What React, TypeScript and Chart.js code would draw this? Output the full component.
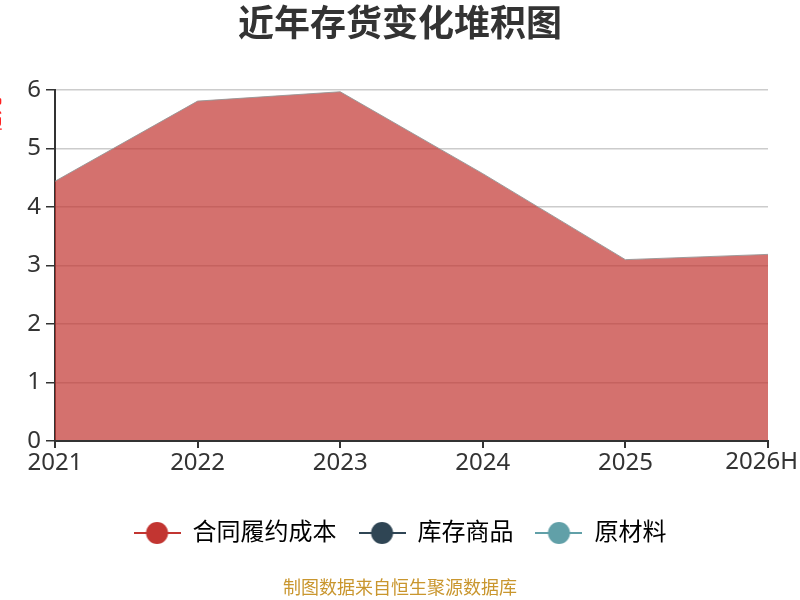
import Chart, { ChartConfiguration, Plugin } from "chart.js/auto";
import React, { useRef } from "react";

const years = ["2021", "2022", "2023", "2024", "2025", "2026H"];
const contractCost = [4.44, 5.81, 5.97, 4.57, 3.1, 3.19];
const goodsInStock = [0, 0, 0, 0, 0, 0];
const rawMaterials = [0, 0, 0, 0, 0, 0];
const seriesNames = ["合同履约成本", "库存商品", "原材料"];
const seriesColors = ["#c23531", "#2f4554", "#61a0a8"];
const yTicks = [0, 1, 2, 3, 4, 5, 6];

const FONT = '"Noto Sans", "Noto Sans CJK SC", sans-serif';

// legend marker: short line with a dot in the middle
const makeMarker = (color: string) => {
  const c = document.createElement("canvas");
  c.width = 47;
  c.height = 22;
  const g = c.getContext("2d")!;
  g.strokeStyle = color;
  g.lineWidth = 2;
  g.beginPath();
  g.moveTo(0, 11);
  g.lineTo(47, 11);
  g.stroke();
  g.fillStyle = color;
  g.beginPath();
  g.arc(23.5, 11, 11, 0, Math.PI * 2);
  g.fill();
  return c;
};

const extras: Plugin = {
  id: "extras",
  afterDraw(chart) {
    const ctx = chart.ctx;
    const x = chart.scales.x;
    ctx.save();
    ctx.textAlign = "center";
    ctx.textBaseline = "middle";
    ctx.fillStyle = "#333";
    ctx.font = `bold 36px ${FONT}`;
    ctx.fillText("近年存货变化堆积图", 400, 26);
    ctx.fillStyle = "#c9962e";
    ctx.font = `18px ${FONT}`;
    ctx.fillText("制图数据来自恒生聚源数据库", 400, 589);

    // last category label is pushed inside the canvas, like the original
    const last = years.length - 1;
    ctx.font = `24px ${FONT}`;
    ctx.fillStyle = "#333";
    ctx.textAlign = "right";
    ctx.textBaseline = "top";
    const w = ctx.measureText(years[last]).width;
    const px = Math.min(x.getPixelForValue(last) + w / 2, chart.width - 2);
    ctx.fillText(years[last], px, x.top + 9);

    // y-axis unit, mostly cut off at the left edge
    ctx.textAlign = "center";
    ctx.textBaseline = "middle";
    ctx.font = `18px ${FONT}`;
    ctx.translate(-5, 115);
    ctx.rotate(-Math.PI / 2);
    ctx.fillStyle = "#ff2020";
    ctx.fillText("亿元", 0, 0);
    ctx.restore();
  },
};

const App = () => {
  const canvasEl = useRef<HTMLCanvasElement>(null);
  React.useEffect(() => {
    const ctx = canvasEl.current!.getContext("2d")!;
    const markers = seriesColors.map(makeMarker);
    const values = [contractCost, goodsInStock, rawMaterials];

    const data = {
      labels: years,
      datasets: values.map((v, i) => ({
        label: seriesNames[i],
        data: v,
        fill: i === 0 ? "origin" : "-1",
        backgroundColor: i === 0 ? "rgba(194,53,49,0.7)" : seriesColors[i],
        borderColor: i === 0 ? "rgba(150,150,150,0.9)" : seriesColors[i],
        borderWidth: i === 0 ? 1 : 0,
        pointRadius: 0,
        tension: 0,
      })),
    };

    const config = {
      type: "line",
      data: data,
      plugins: [extras],
      options: {
        responsive: false,
        animation: false,
        layout: { padding: { left: 0, right: 0, top: 90, bottom: 45 } },
        plugins: {
          title: { display: false },
          legend: {
            position: "bottom",
            labels: {
              usePointStyle: true,
              pointStyleWidth: 47,
              boxHeight: 22,
              padding: 22,
              color: "#333",
              font: { family: FONT, size: 24 },
              generateLabels: () =>
                seriesNames.map((name, i) => ({
                  text: name,
                  pointStyle: markers[i],
                  fillStyle: seriesColors[i],
                  strokeStyle: seriesColors[i],
                  lineWidth: 0,
                  datasetIndex: i,
                  hidden: false,
                })),
            },
          },
          tooltip: { enabled: false },
        },
        scales: {
          x: {
            offset: false,
            grid: {
              display: true,
              drawOnChartArea: false,
              drawTicks: true,
              tickLength: 7,
              tickColor: "#333",
              lineWidth: 2,
            },
            border: { color: "#333", width: 2, z: 1 },
            ticks: {
              color: "#333",
              font: { family: FONT, size: 24 },
              padding: 1,
              maxRotation: 0,
              autoSkip: false,
              callback: (_v: any, i: number) => (i === years.length - 1 ? "" : years[i]),
            },
            afterFit: (scale: any) => {
              scale.height = 58;
              scale.paddingRight = 32;
              scale.paddingLeft = 0;
            },
          },
          y: {
            stacked: true,
            min: 0,
            max: 6,
            afterBuildTicks: (scale: any) => {
              scale.ticks = yTicks.map((v) => ({ value: v }));
            },
            grid: {
              color: "#cccccc",
              lineWidth: 1.5,
              tickLength: 9,
              tickColor: "#333",
            },
            border: { color: "#333", width: 2 },
            ticks: {
              color: "#333",
              font: { family: FONT, size: 24 },
              padding: 5,
            },
            afterFit: (scale: any) => {
              scale.width = 55;
              scale.paddingTop = 0;
              scale.paddingBottom = 0;
            },
          },
        },
      },
    } as ChartConfiguration;
    const chart = new Chart(ctx, config);

    return () => {
      chart.destroy();
    };
  }, []);
  return (
    <div style={{ position: "absolute", left: 0, top: 0, width: 800, height: 600 }}>
      <canvas ref={canvasEl} width={800} height={600}></canvas>
    </div>
  );
};

export default App;
